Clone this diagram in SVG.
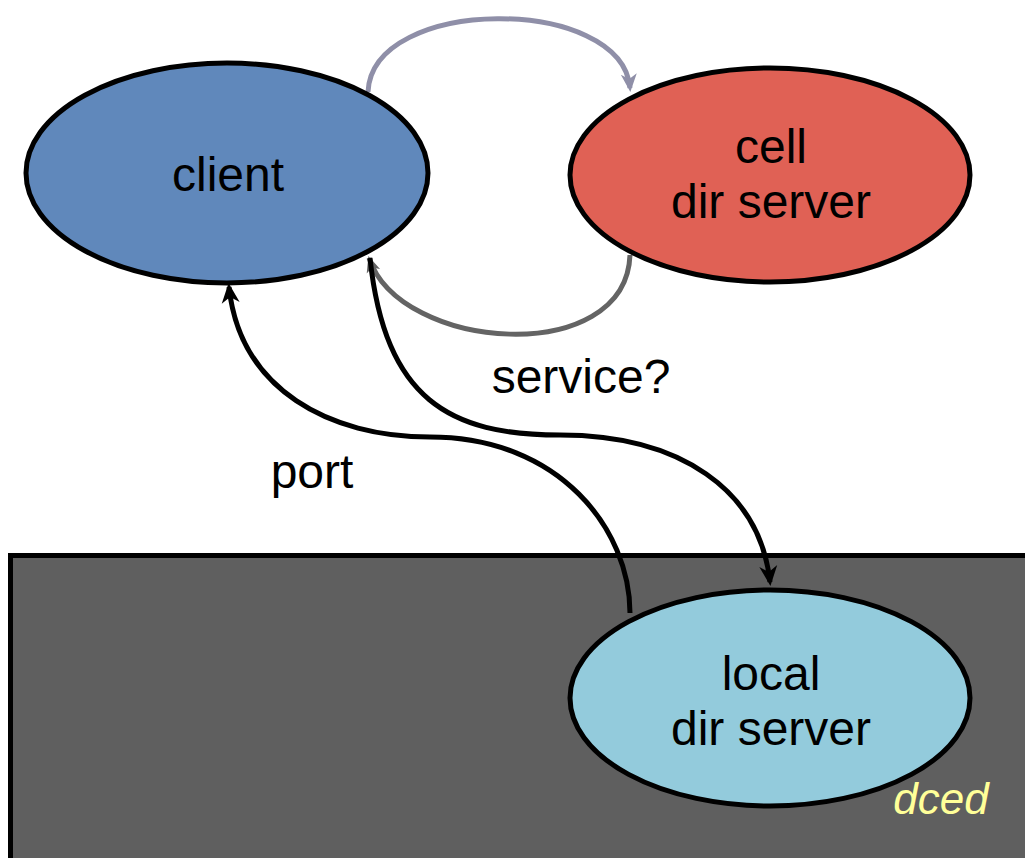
<svg xmlns="http://www.w3.org/2000/svg" width="1025" height="858" viewBox="0 0 1025 858">
  <style>
    .node { stroke: #000; stroke-width: 5; }
    .label { font-family: "Liberation Sans", Arial, sans-serif; font-size: 48px; fill: #000; text-anchor: middle; }
    .edge { fill: none; stroke-width: 5; }
  </style>
  <defs>
    <marker id="ah-blue" markerWidth="20" markerHeight="20" refX="14" refY="10" orient="auto" markerUnits="userSpaceOnUse" viewBox="0 0 20 20">
      <path d="M0,2 L18,10 L0,18 L5,10 Z" fill="#8f8fa8"/>
    </marker>
    <marker id="ah-grey" markerWidth="20" markerHeight="20" refX="14" refY="10" orient="auto" markerUnits="userSpaceOnUse" viewBox="0 0 20 20">
      <path d="M0,3 L16,10 L0,17 L4,10 Z" fill="#646464"/>
    </marker>
    <marker id="ah" markerWidth="22" markerHeight="22" refX="16" refY="11" orient="auto" markerUnits="userSpaceOnUse" viewBox="0 0 22 22">
      <path d="M0,2 L20,11 L0,20 L6,11 Z" fill="#000"/>
    </marker>
  </defs>

  <!-- host boundary -->
  <g id="host">
    <rect x="10.5" y="555.5" width="1030" height="310" fill="#5f5f5f" stroke="#000" stroke-width="5"/>
    <text x="941" y="814" font-family="Liberation Sans, Arial, sans-serif" font-size="44" font-style="italic" fill="#ffff99" text-anchor="middle">dced</text>
  </g>

  <!-- connectors -->
  <g id="connectors">
    <path class="edge" stroke="#8f8fa8" d="M368,92 C372,-5 622,-5 630,88" marker-end="url(#ah-blue)"/>
    <path class="edge" stroke="#646464" d="M630,255 C626,368 400,352 369,258" marker-end="url(#ah-grey)"/>
    <path class="edge" stroke="#000" d="M370,258 C385,400 450,435 560,435 C680,435 760,490 770,582" marker-end="url(#ah)"/>
    <path class="edge" stroke="#000" d="M630,613 C630,530 560,437 430,437 C330,437 240,390 229,287" marker-end="url(#ah)"/>
    <text class="label" x="581" y="393">service?</text>
    <text class="label" x="312" y="488">port</text>
  </g>

  <g id="client">
    <ellipse class="node" cx="227" cy="173" rx="201" ry="110" fill="#6088bb"/>
    <text class="label" x="228" y="191">client</text>
  </g>

  <g id="cell-dir-server">
    <ellipse class="node" cx="770" cy="175" rx="200" ry="107" fill="#e06155"/>
    <text class="label" x="771" y="163">cell</text>
    <text class="label" x="771" y="218">dir server</text>
  </g>

  <g id="local-dir-server">
    <ellipse class="node" cx="770" cy="698" rx="200" ry="108" fill="#93cbdc"/>
    <text class="label" x="771" y="690">local</text>
    <text class="label" x="771" y="745">dir server</text>
  </g>
</svg>
